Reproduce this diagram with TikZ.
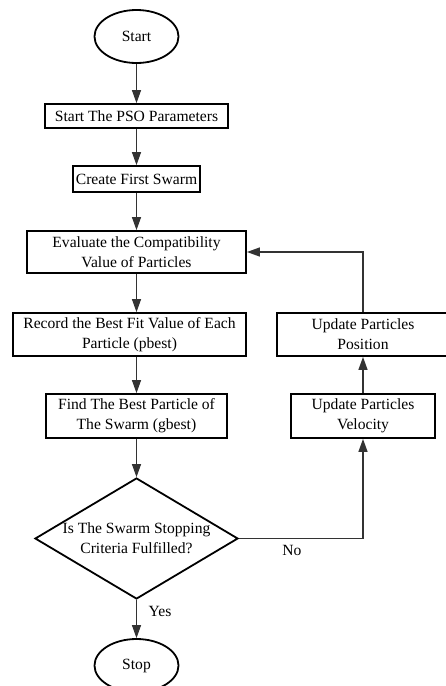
\documentclass[tikz,border=0pt]{standalone}
\usepackage{fontspec}
\setmainfont{Liberation Serif}
\usetikzlibrary{shapes.geometric,arrows.meta}
\tikzset{
  every node/.style={font=\fontsize{15.6}{20}\selectfont, align=center, inner sep=0pt},
  box/.style={draw=black, line width=1.8pt, rectangle},
  term/.style={draw=black, line width=1.8pt, ellipse, minimum width=84pt, minimum height=53pt},
  decision/.style={draw=black, line width=1.8pt, diamond, minimum width=203pt, minimum height=121pt},
  flow/.style={draw=black!80, line width=1.3pt, -{Triangle[length=13pt,width=9pt]}},
  link/.style={draw=black!80, line width=1.3pt},
}
\begin{document}
\begin{tikzpicture}[x=1pt,y=-1pt]
\useasboundingbox (0,0) rectangle (446,686);
\clip (0,0) rectangle (446,686);

% main column
\node[term] (start) at (136.5,36.5) {Start};
\node[box, minimum width=183pt, minimum height=24pt] (pso) at (136.5,116) {Start The PSO Parameters};
\node[box, minimum width=127pt, minimum height=26pt] (swarm) at (136.5,179) {Create First Swarm};
\node[box, minimum width=219pt, minimum height=42pt] (eval) at (136.5,252) {Evaluate the Compatibility\\Value of Particles};
\node[box, minimum width=233pt, minimum height=43pt] (rec) at (129.5,334.5) {Record the Best Fit Value of Each\\Particle (pbest)};
\node[box, minimum width=181pt, minimum height=44pt] (find) at (136.5,416) {Find The Best Particle of\\The Swarm (gbest)};
\node[decision, label={[align=center]center:Is The Swarm Stopping\\Criteria Fulfilled?}] (dec) at (136.5,538.5) {};
\node[term] (stop) at (136.5,665.5) {Stop};

% update column
\node[box, minimum width=172pt, minimum height=43pt] (pos) at (363,334.5) {Update Particles\\Position};
\node[box, minimum width=144pt, minimum height=44pt] (vel) at (363,416) {Update Particles\\Velocity};

% branch labels
\node (no) at (292,550) {No};
\node (yes) at (160,611) {Yes};

% connectors
\draw[flow] (start) -- (pso);
\draw[flow] (pso) -- (swarm);
\draw[flow] (swarm) -- (eval);
\draw[flow] (eval.south) -- (eval.south |- rec.north);
\draw[flow] (find.north |- rec.south) -- (find.north);
\draw[flow] (find) -- (dec);
\draw[flow] (dec) -- (stop);
\draw[flow] (dec.east) -| (vel.south);
\draw[flow] (vel) -- (pos);
\draw[flow] (pos.north) |- (eval.east);
\end{tikzpicture}
\end{document}
